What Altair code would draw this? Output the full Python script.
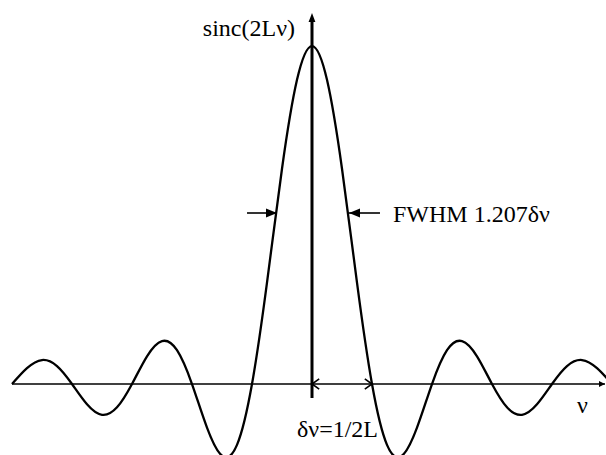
import altair as alt
import pandas as pd

# --- curve values (nu in units of delta-nu, height relative to peak)
nu = [-5.0, -4.75, -4.5, -4.25, -4.0, -3.75, -3.5, -3.25, -3.0, -2.75, -2.5, -2.25,
      -2.0, -1.75, -1.5, -1.25, -1.0, -0.75, -0.5, -0.25, 0.0, 0.25, 0.5, 0.75,
      1.0, 1.25, 1.5, 1.75, 2.0, 2.25, 2.5, 2.75, 3.0, 3.25, 3.5, 3.75, 4.0,
      4.25, 4.5, 4.75, 5.0]
height = [0.0, 0.047, 0.071, 0.053, 0.0, -0.060, -0.091, -0.069, 0.0, 0.082, 0.127, 0.100,
          0.0, -0.129, -0.212, -0.180, 0.0, 0.300, 0.637, 0.900, 1.0, 0.900, 0.637, 0.300,
          0.0, -0.180, -0.212, -0.129, 0.0, 0.100, 0.127, 0.082, 0.0, -0.069, -0.091, -0.060, 0.0,
          0.053, 0.071, 0.047, 0.0]

# annotation anchors
h_axis_x = [-5.0, 4.883]
v_axis_y = [-0.041, 1.098]
fwhm_level = 0.506
fwhm_left = [-1.083, -0.583]
fwhm_right = [1.133, 0.617]
dnu_span = [0.0, 1.0]

labels = ["sinc(2Lν)", "FWHM 1.207δν", "δν=1/2L", "ν"]
label_x = [-0.283, 1.35, -0.25, 4.417]
label_y = [1.0296, 0.479, -0.157, -0.0858]
label_align = ["right", "left", "left", "left"]

X = alt.Scale(domain=[-5.2, 4.9], nice=False, zero=False)
Y = alt.Scale(domain=[-0.21, 1.1362], nice=False, zero=False)

def xe(f="x"):
    return alt.X(f"{f}:Q", scale=X, axis=None)

def ye(f="y"):
    return alt.Y(f"{f}:Q", scale=Y, axis=None)

curve = alt.Chart(pd.DataFrame({"x": nu, "y": height})).mark_line(
    color="black", strokeWidth=2.3, interpolate="natural", clip=True
).encode(x=xe(), y=ye())

haxis = alt.Chart(pd.DataFrame({"x": [h_axis_x[0]], "x2": [h_axis_x[1]], "y": [0.0]})).mark_rule(
    color="black", strokeWidth=1.6
).encode(x=xe(), x2="x2:Q", y=ye())

vaxis = alt.Chart(pd.DataFrame({"x": [0.0], "y": [v_axis_y[0]], "y2": [v_axis_y[1] - 0.015]})).mark_rule(
    color="black", strokeWidth=3
).encode(x=xe(), y=ye(), y2="y2:Q")

top_head = alt.Chart(pd.DataFrame({"x": [0.0], "y": [v_axis_y[1]]})).mark_point(
    shape="M0,0L-0.38,1L0.38,1Z", size=324, filled=True, fill="black", strokeWidth=0, opacity=1
).encode(x=xe(), y=ye())

right_head = alt.Chart(pd.DataFrame({"x": [h_axis_x[1]], "y": [0.0]})).mark_point(
    shape="M0,0L-1,-0.5L-1,0.5Z", size=144, filled=True, fill="black", strokeWidth=0, opacity=1
).encode(x=xe(), y=ye())

fwhm_lines = alt.Chart(pd.DataFrame({
    "x": [fwhm_left[0], fwhm_right[0]],
    "x2": [fwhm_left[1], fwhm_right[1]],
    "y": [fwhm_level, fwhm_level]})).mark_rule(color="black", strokeWidth=1.6).encode(
    x=xe(), x2="x2:Q", y=ye())

fwhm_head_r = alt.Chart(pd.DataFrame({"x": [fwhm_left[1]], "y": [fwhm_level]})).mark_point(
    shape="M0,0L-1,-0.42L-1,0.42Z", size=484, filled=True, fill="black", strokeWidth=0, opacity=1
).encode(x=xe(), y=ye())

fwhm_head_l = alt.Chart(pd.DataFrame({"x": [fwhm_right[1]], "y": [fwhm_level]})).mark_point(
    shape="M0,0L1,-0.42L1,0.42Z", size=484, filled=True, fill="black", strokeWidth=0, opacity=1
).encode(x=xe(), y=ye())

chev_l = alt.Chart(pd.DataFrame({"x": [dnu_span[0]], "y": [0.0]})).mark_point(
    shape="M1.2,-0.85L0,0L1.2,0.85", size=144, filled=False, stroke="black", strokeWidth=1.6, opacity=1
).encode(x=xe(), y=ye())

chev_r = alt.Chart(pd.DataFrame({"x": [dnu_span[1]], "y": [0.0]})).mark_point(
    shape="M-1.2,-0.85L0,0L-1.2,0.85", size=144, filled=False, stroke="black", strokeWidth=1.6, opacity=1
).encode(x=xe(), y=ye())

txt_df = pd.DataFrame({"x": label_x, "y": label_y, "t": labels, "a": label_align})
txt_r = alt.Chart(txt_df[txt_df.a == "right"]).mark_text(
    font="Liberation Serif", fontSize=24, color="black", align="right", baseline="alphabetic"
).encode(x=xe(), y=ye(), text="t:N")
txt_l = alt.Chart(txt_df[txt_df.a == "left"]).mark_text(
    font="Liberation Serif", fontSize=24, color="black", align="left", baseline="alphabetic"
).encode(x=xe(), y=ye(), text="t:N")

chart = alt.layer(
    curve, haxis, vaxis, top_head, right_head, fwhm_lines, fwhm_head_r, fwhm_head_l,
    chev_l, chev_r, txt_r, txt_l
).properties(
    width=606, height=455, padding=0,
    autosize=alt.AutoSizeParams(type="none"), background="white"
).configure_view(stroke=None)

chart.save("out.html", embed_options={"renderer": "svg", "actions": False})
